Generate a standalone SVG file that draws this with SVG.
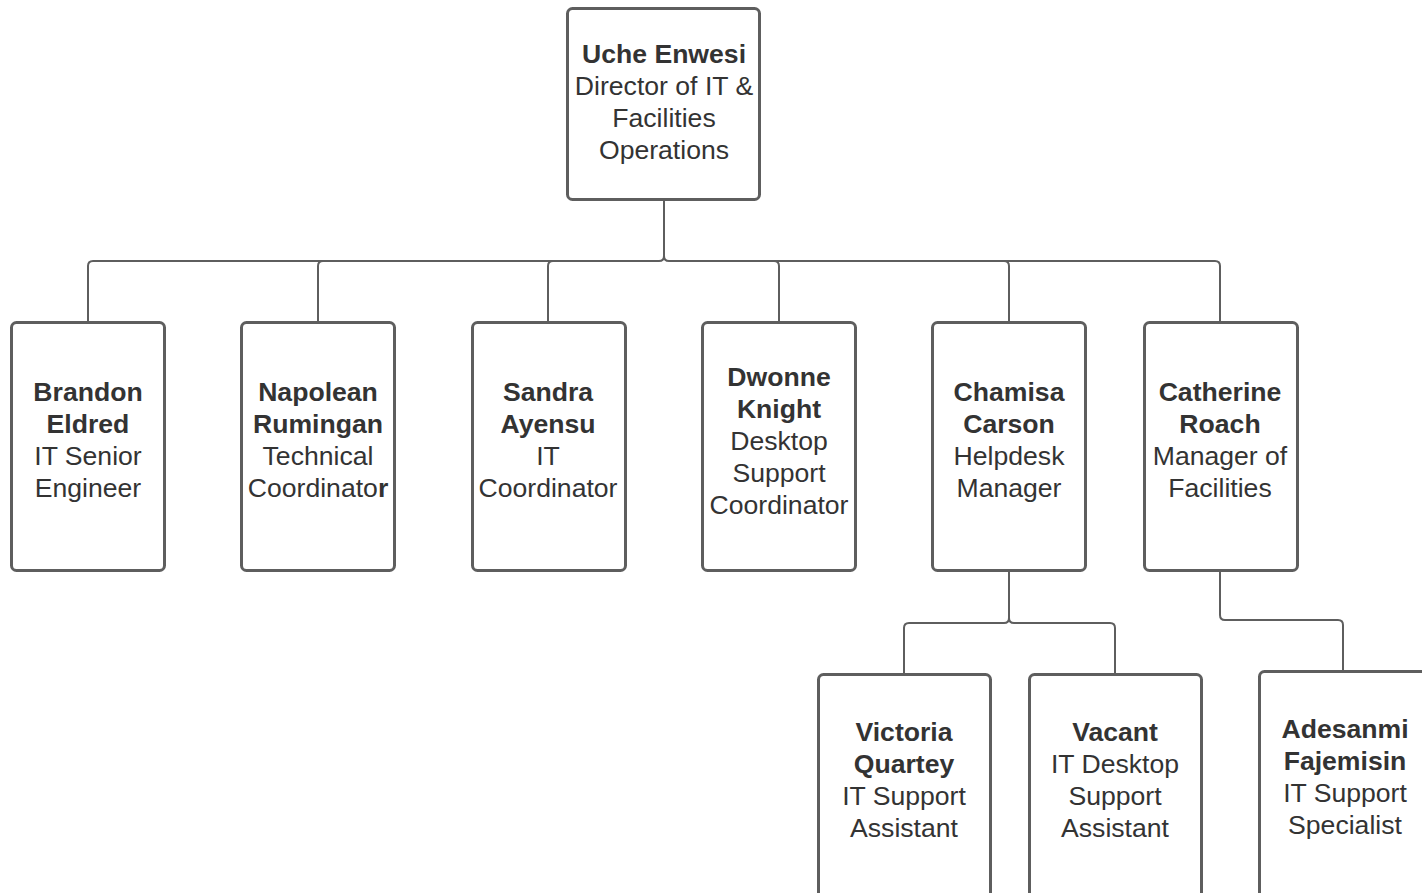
<svg xmlns="http://www.w3.org/2000/svg" width="1422" height="893" viewBox="0 0 1422 893">
<style>
.box{fill:#ffffff;stroke:#5e5e5e;stroke-width:3}
.c{fill:none;stroke:#5e5e5e;stroke-width:2}
text{font-family:"Liberation Sans",Arial,sans-serif;font-size:26.6px;fill:#333333;text-anchor:middle}
.b{font-weight:bold}
</style>
<rect width="1422" height="893" fill="#ffffff"/>
<g id="connectors">
<path class="c" d="M664 199 V256 Q664 261 659 261 H93 Q88 261 88 266 V322"/>
<path class="c" d="M664 256 Q664 261 669 261 H1215 Q1220 261 1220 266 V322"/>
<path class="c" d="M323 261 Q318 261 318 266 V322"/>
<path class="c" d="M553 261 Q548 261 548 266 V322"/>
<path class="c" d="M774 261 Q779 261 779 266 V322"/>
<path class="c" d="M1004 261 Q1009 261 1009 266 V322"/>
<path class="c" d="M1009 571 V618 Q1009 623 1004 623 H909 Q904 623 904 628 V674"/>
<path class="c" d="M1009 618 Q1009 623 1014 623 H1110 Q1115 623 1115 628 V674"/>
<path class="c" d="M1220 571 V615 Q1220 620 1225 620 H1338 Q1343 620 1343 625 V671"/>
</g>
<g id="n-uche">
<rect class="box" x="567.5" y="8.5" width="192" height="191" rx="5"/>
<text x="664" y="63"><tspan class="b">Uche Enwesi</tspan><tspan x="664" dy="32">Director of IT &amp;</tspan><tspan x="664" dy="32">Facilities</tspan><tspan x="664" dy="32">Operations</tspan></text>
</g>
<g id="n-brandon">
<rect class="box" x="11.5" y="322.5" width="153" height="248" rx="5"/>
<text x="88" y="401"><tspan class="b">Brandon</tspan><tspan x="88" dy="32" class="b">Eldred</tspan><tspan x="88" dy="32">IT Senior</tspan><tspan x="88" dy="32">Engineer</tspan></text>
</g>
<g id="n-napolean">
<rect class="box" x="241.5" y="322.5" width="153" height="248" rx="5"/>
<text x="318" y="401"><tspan class="b">Napolean</tspan><tspan x="318" dy="32" class="b">Rumingan</tspan><tspan x="318" dy="32">Technical</tspan><tspan x="318" dy="32">Coordinato<tspan class="b">r</tspan></tspan></text>
</g>
<g id="n-sandra">
<rect class="box" x="472.5" y="322.5" width="153" height="248" rx="5"/>
<text x="548" y="401"><tspan class="b">Sandra</tspan><tspan x="548" dy="32" class="b">Ayensu</tspan><tspan x="548" dy="32">IT</tspan><tspan x="548" dy="32">Coordinator</tspan></text>
</g>
<g id="n-dwonne">
<rect class="box" x="702.5" y="322.5" width="153" height="248" rx="5"/>
<text x="779" y="386"><tspan class="b">Dwonne</tspan><tspan x="779" dy="32" class="b">Knight</tspan><tspan x="779" dy="32">Desktop</tspan><tspan x="779" dy="32">Support</tspan><tspan x="779" dy="32">Coordinator</tspan></text>
</g>
<g id="n-chamisa">
<rect class="box" x="932.5" y="322.5" width="153" height="248" rx="5"/>
<text x="1009" y="401"><tspan class="b">Chamisa</tspan><tspan x="1009" dy="32" class="b">Carson</tspan><tspan x="1009" dy="32">Helpdesk</tspan><tspan x="1009" dy="32">Manager</tspan></text>
</g>
<g id="n-catherine">
<rect class="box" x="1144.5" y="322.5" width="153" height="248" rx="5"/>
<text x="1220" y="401"><tspan class="b">Catherine</tspan><tspan x="1220" dy="32" class="b">Roach</tspan><tspan x="1220" dy="32">Manager of</tspan><tspan x="1220" dy="32">Facilities</tspan></text>
</g>
<g id="n-victoria">
<rect class="box" x="818.5" y="674.5" width="172" height="240" rx="5"/>
<text x="904" y="741"><tspan class="b">Victoria</tspan><tspan x="904" dy="32" class="b">Quartey</tspan><tspan x="904" dy="32">IT Support</tspan><tspan x="904" dy="32">Assistant</tspan></text>
</g>
<g id="n-vacant">
<rect class="box" x="1029.5" y="674.5" width="172" height="240" rx="5"/>
<text x="1115" y="741"><tspan class="b">Vacant</tspan><tspan x="1115" dy="32">IT Desktop</tspan><tspan x="1115" dy="32">Support</tspan><tspan x="1115" dy="32">Assistant</tspan></text>
</g>
<g id="n-adesanmi">
<rect class="box" x="1259.5" y="671.5" width="172" height="240" rx="5"/>
<text x="1345" y="738"><tspan class="b">Adesanmi</tspan><tspan x="1345" dy="32" class="b">Fajemisin</tspan><tspan x="1345" dy="32">IT Support</tspan><tspan x="1345" dy="32">Specialist</tspan></text>
</g>
</svg>
